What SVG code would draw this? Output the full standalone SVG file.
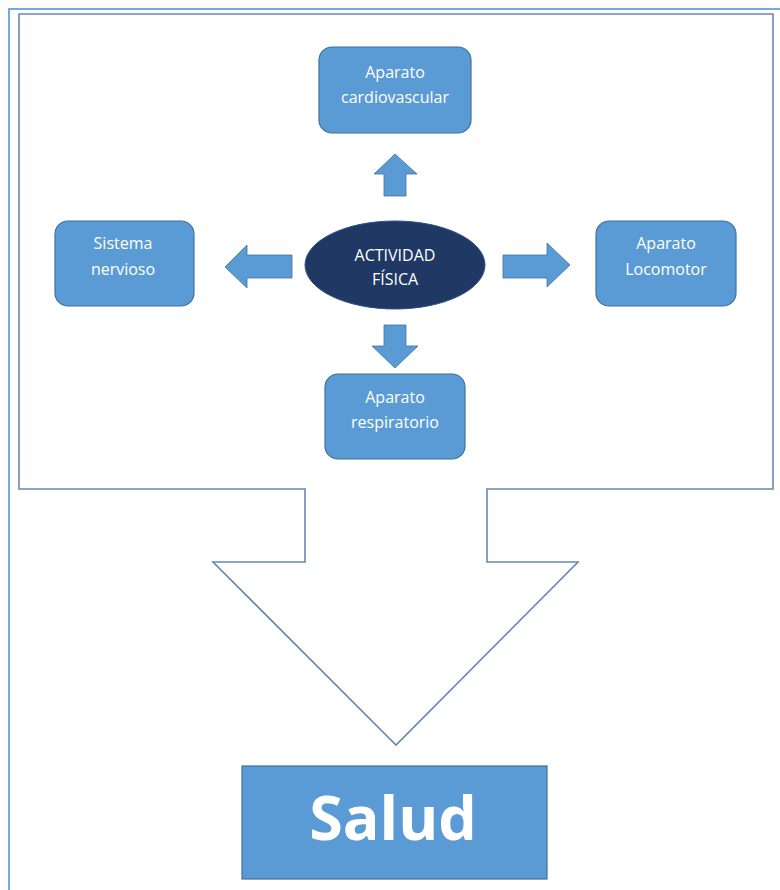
<svg xmlns="http://www.w3.org/2000/svg" width="780" height="890" viewBox="0 0 780 890">
<style>
.frame{fill:none;stroke:#74aae0;stroke-width:2}
.big{fill:#ffffff;stroke:#6689b3;stroke-width:1.6;stroke-linejoin:miter}
.node{fill:#5b9bd5;stroke:#41719c;stroke-width:1.2}
.arrow{fill:#5b9bd5;stroke:#41719c;stroke-width:0.8;stroke-linejoin:miter}
.core{fill:#1f3864;stroke:#2f528f;stroke-width:1}
.t{font-family:"Open Sans","Noto Sans","Liberation Sans",sans-serif;font-size:16px;fill:#ffffff;text-anchor:middle}
.tc{font-family:"Open Sans","Noto Sans","Liberation Sans",sans-serif;font-size:16px;fill:#ffffff;text-anchor:middle}
.ts{font-family:"Open Sans","Noto Sans","Liberation Sans",sans-serif;font-size:61px;font-weight:bold;fill:#ffffff;text-anchor:middle}
</style>
<rect width="780" height="890" fill="#ffffff"/>
<path class="frame" d="M9,890 V9 H780"/>
<g id="frame">
<path class="big" d="M19,14 H773 V489 H487 V562 H578 L396,745 L213,562 H305 V489 H19 Z"/>
</g>
<g id="connectors">
<path class="arrow" d="M395,154 L417,174 H406 V196 H384 V174 H374 Z"/>
<path class="arrow" d="M225,267 L247,245 V255 H292 V278 H247 V288 Z"/>
<path class="arrow" d="M570,265 L547,243 V255 H503 V278 H547 V287 Z"/>
<path class="arrow" d="M395,368 L418,346 H406 V325 H384 V346 H372 Z"/>
</g>
<g id="actividad">
<ellipse class="core" cx="395" cy="265" rx="90" ry="44"/>
<text class="tc" x="395" y="261">ACTIVIDAD</text>
<text class="tc" x="395" y="285">FÍSICA</text>
</g>
<g id="cardiovascular">
<rect class="node" x="319" y="47" width="152" height="86" rx="13"/>
<text class="t" x="395" y="78">Aparato</text>
<text class="t" x="395" y="103">cardiovascular</text>
</g>
<g id="nervioso">
<rect class="node" x="55" y="221" width="139" height="85" rx="13"/>
<text class="t" x="123" y="249">Sistema</text>
<text class="t" x="123" y="275">nervioso</text>
</g>
<g id="locomotor">
<rect class="node" x="596" y="221" width="140" height="85" rx="13"/>
<text class="t" x="666" y="249">Aparato</text>
<text class="t" x="666" y="275">Locomotor</text>
</g>
<g id="respiratorio">
<rect class="node" x="325" y="374" width="140" height="85" rx="13"/>
<text class="t" x="395" y="403">Aparato</text>
<text class="t" x="395" y="428">respiratorio</text>
</g>
<g id="salud">
<rect class="node" x="242" y="766" width="305" height="113"/>
<text class="ts" x="393" y="840">Salud</text>
</g>
</svg>
